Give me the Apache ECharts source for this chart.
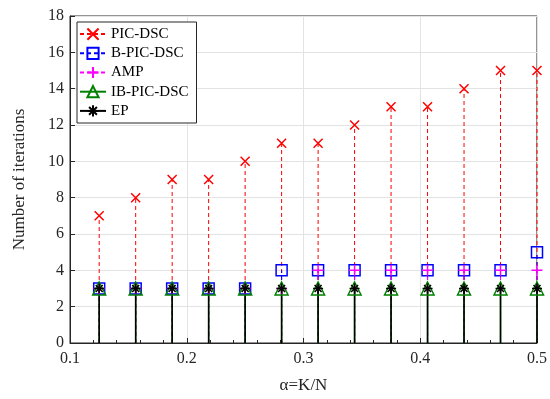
<!DOCTYPE html>
<html>
<head>
<meta charset="utf-8">
<script src="https://cdn.jsdelivr.net/npm/echarts@6/dist/echarts.min.js"></script>
<style>html,body{margin:0;padding:0;background:#fff}#main{width:550px;height:399px}</style>
</head>
<body>
<div id="main"></div>
<script>
// alpha = K/N
var alpha = [0.125, 0.15625, 0.1875, 0.21875, 0.25, 0.28125, 0.3125, 0.34375, 0.375, 0.40625, 0.4375, 0.46875, 0.5];
var picDsc = [7, 8, 9, 9, 10, 11, 11, 12, 13, 13, 14, 15, 15];
var bPicDsc = [3, 3, 3, 3, 3, 4, 4, 4, 4, 4, 4, 4, 5];
var amp = [3, 3, 3, 3, 3, 3, 4, 4, 4, 4, 4, 4, 4];
var ibPicDsc = [3, 3, 3, 3, 3, 3, 3, 3, 3, 3, 3, 3, 3];
var ep = [3, 3, 3, 3, 3, 3, 3, 3, 3, 3, 3, 3, 3];

var font = 'Liberation Serif';

// stem data: (x,0) -> (x,y) then a gap
function stems(vals) {
  var d = [];
  alpha.forEach(function (x, i) {
    d.push({ value: [x, 0], symbol: 'none' });
    d.push([x, vals[i]]);
    d.push([x, '-']);
  });
  return d;
}

var xPath = 'path://M0,0L10,10M10,0L0,10';
var plusPath = 'path://M5,0L5,10M0,5L10,5';
var starPath = 'path://M5,0L5,10M0,5L10,5M1.5,1.5L8.5,8.5M8.5,1.5L1.5,8.5';

function stemSeries(name, vals, color, dash, symbol, size) {
  return {
    name: name,
    type: 'line',
    data: stems(vals),
    connectNulls: false,
    symbol: symbol,
    symbolSize: size,
    showSymbol: true,
    animation: false,
    lineStyle: { color: color, width: dash ? 1 : 1.5, type: dash ? [4, 3] : 'solid' },
    itemStyle: { color: 'none', borderColor: color, borderWidth: 1.5 },
    emphasis: { disabled: true }
  };
}

var chart = echarts.init(document.getElementById('main'));
chart.setOption({
  backgroundColor: '#fff',
  textStyle: { fontFamily: font },
  grid: {
    left: 70, right: 11, top: 16, bottom: 51,
    show: true, borderColor: '#262626', borderWidth: 1, backgroundColor: 'transparent'
  },
  legend: {
    orient: 'vertical',
    left: 77, top: 22,
    backgroundColor: '#fff',
    borderColor: '#262626',
    borderWidth: 1,
    borderRadius: 0,
    padding: [4, 8, 4, 2],
    itemWidth: 26,
    itemHeight: 14,
    itemGap: 3,
    textStyle: { fontFamily: font, fontSize: 15, color: '#000' },
    data: ['PIC-DSC', 'B-PIC-DSC', 'AMP', 'IB-PIC-DSC', 'EP']
  },
  xAxis: {
    type: 'value',
    min: 0.1, max: 0.5, interval: 0.1,
    name: 'α=K/N',
    nameLocation: 'middle',
    nameGap: 34,
    nameTextStyle: { fontFamily: font, fontSize: 17, color: '#262626' },
    axisLine: { lineStyle: { color: '#262626' } },
    axisTick: { inside: true, length: 5, lineStyle: { color: '#262626' } },
    minorTick: { show: true, splitNumber: 5, length: 3, lineStyle: { color: '#262626' } },
    axisLabel: { fontFamily: font, fontSize: 16, color: '#262626', margin: 8, formatter: function (v) { return +v.toFixed(1); } },
    splitLine: { show: true, lineStyle: { color: '#e3e3e3' } }
  },
  yAxis: {
    type: 'value',
    min: 0, max: 18, interval: 2,
    name: 'Number of iterations',
    nameLocation: 'middle',
    nameGap: 42,
    nameTextStyle: { fontFamily: font, fontSize: 17, color: '#262626' },
    axisLine: { show: true, lineStyle: { color: '#262626' } },
    axisTick: { show: true, inside: true, length: 5, lineStyle: { color: '#262626' } },
    axisLabel: { fontFamily: font, fontSize: 16, color: '#262626', margin: 6 },
    splitLine: { show: true, lineStyle: { color: '#e3e3e3' } }
  },
  series: [
    stemSeries('PIC-DSC', picDsc, '#ff0000', true, xPath, 9),
    stemSeries('B-PIC-DSC', bPicDsc, '#0000ff', true, 'rect', 11),
    stemSeries('AMP', amp, '#ff00ff', true, plusPath, 11),
    stemSeries('IB-PIC-DSC', ibPicDsc, '#008000', false, 'path://M5,0L10,9L0,9Z', 13),
    stemSeries('EP', ep, '#000000', false, starPath, 10)
  ]
});
</script>
</body>
</html>
